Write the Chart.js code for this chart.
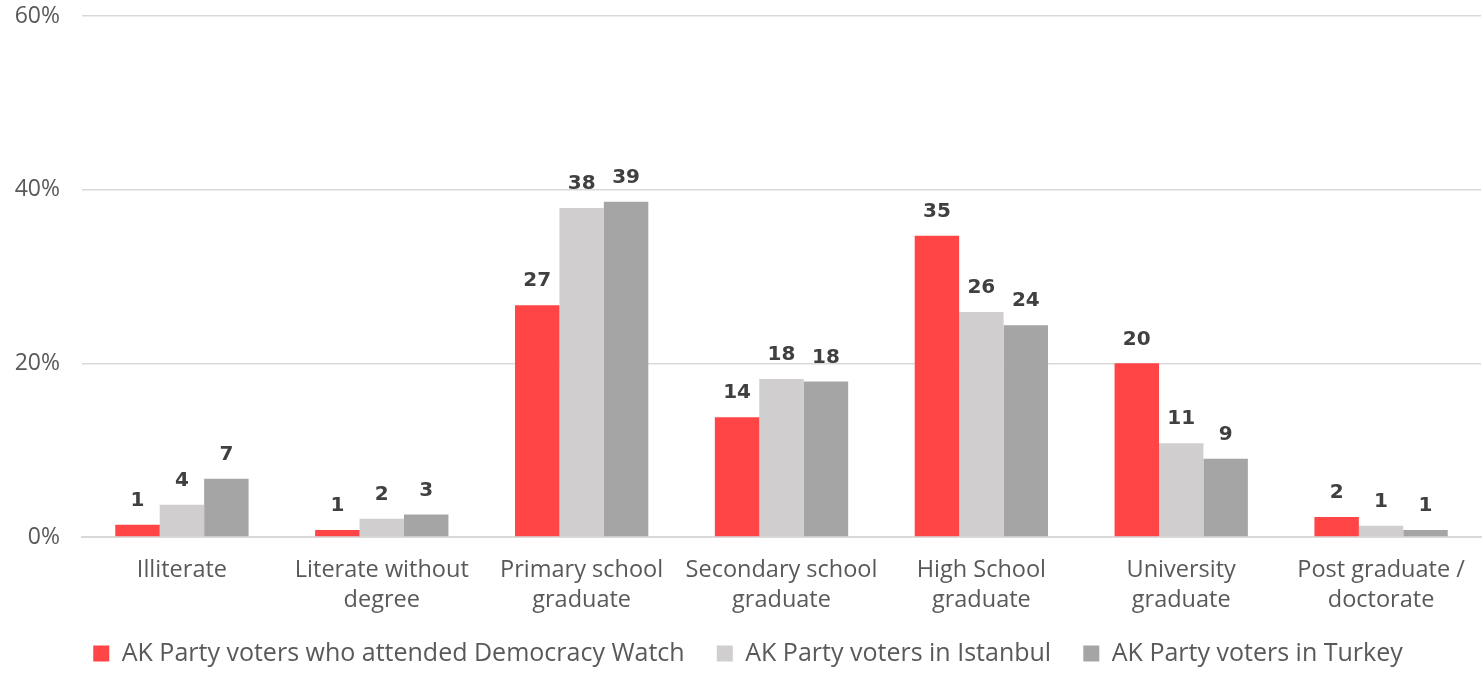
<!DOCTYPE html>
<html>
<head>
<meta charset="utf-8">
<script src="https://cdn.jsdelivr.net/npm/chart.js@4.4.0/dist/chart.umd.min.js"></script>
<style>
html,body{margin:0;padding:0;background:#fff;}
#wrap{width:1483px;height:673px;position:relative;}
</style>
</head>
<body>
<div id="wrap"><canvas id="c" width="1483" height="673"></canvas></div>
<script>
const categories = [
  "Illiterate",
  ["Literate without", "degree"],
  ["Primary school", "graduate"],
  ["Secondary school", "graduate"],
  ["High School", "graduate"],
  ["University", "graduate"],
  ["Post graduate /", "doctorate"]
];
const seriesNames = [
  "AK Party voters who attended Democracy Watch",
  "AK Party voters in Istanbul",
  "AK Party voters in Turkey"
];
const democracyWatch = [1.4, 0.8, 26.7, 13.8, 34.7, 20.0, 2.3];
const istanbul       = [3.7, 2.1, 37.9, 18.2, 25.9, 10.8, 1.3];
const turkey         = [6.7, 2.6, 38.6, 17.9, 24.4, 9.0, 0.8];
const yTicks = [0, 20, 40, 60];
const colors = ["#FF4545", "#D0CECF", "#A5A5A5"];

const valueLabels = {
  id: "valueLabels",
  afterDatasetsDraw(chart) {
    const ctx = chart.ctx;
    ctx.save();
    ctx.font = "bold 20px 'DejaVu Sans'";
    ctx.fillStyle = "#404040";
    ctx.textAlign = "center";
    ctx.textBaseline = "middle";
    chart.data.datasets.forEach((ds, i) => {
      const meta = chart.getDatasetMeta(i);
      meta.data.forEach((bar, j) => {
        ctx.fillText(String(Math.round(ds.data[j])), bar.x, bar.y - 24);
      });
    });
    ctx.restore();
  }
};

new Chart(document.getElementById("c"), {
  type: "bar",
  data: {
    labels: categories,
    datasets: [
      { label: seriesNames[0], data: democracyWatch, backgroundColor: colors[0] },
      { label: seriesNames[1], data: istanbul, backgroundColor: colors[1] },
      { label: seriesNames[2], data: turkey, backgroundColor: colors[2] }
    ]
  },
  options: {
    responsive: false,
    animation: false,
    devicePixelRatio: 1,
    layout: { padding: { left: 15, right: 2, top: 16, bottom: -3 } },
    datasets: { bar: { categoryPercentage: 0.667, barPercentage: 1.0 } },
    scales: {
      x: {
        afterFit(axis) { axis.height = 76; },
        grid: { display: false, drawTicks: false },
        border: { display: true, color: "#D9D9D9", width: 2 },
        ticks: {
          color: "#595959",
          font: { family: "'Open Sans'", size: 23.5, lineHeight: 1.28 },
          padding: 18,
          maxRotation: 0,
          autoSkip: false
        }
      },
      y: {
        min: 0, max: 60,
        afterBuildTicks(axis) { axis.ticks = yTicks.map(v => ({ value: v })); },
        afterFit(axis) { axis.width = 67; axis.paddingTop = 0; axis.paddingBottom = 0; },
        grid: { color: "#D9D9D9", lineWidth: 1.5, drawTicks: false },
        border: { display: false },
        ticks: {
          color: "#595959",
          font: { family: "'Open Sans'", size: 23 },
          padding: 22,
          callback: v => v + "%"
        }
      }
    },
    plugins: {
      legend: {
        position: "bottom",
        labels: {
          color: "#595959",
          font: { family: "'Open Sans'", size: 25 },
          boxWidth: 16,
          boxHeight: 16,
          padding: 28,
          generateLabels(chart) {
            const items = Chart.defaults.plugins.legend.labels.generateLabels(chart);
            items.forEach((it, i) => { if (i < items.length - 1) it.text = it.text + "\u2009"; });
            return items;
          }
        }
      },
      tooltip: { enabled: false }
    }
  },
  plugins: [valueLabels]
});
</script>
</body>
</html>
